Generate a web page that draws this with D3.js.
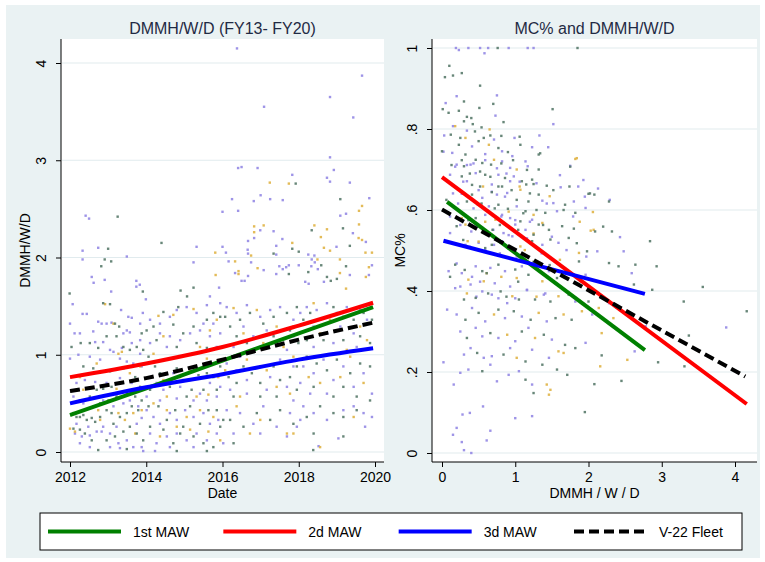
<!DOCTYPE html>
<html>
<head>
<meta charset="utf-8">
<script src="https://cdn.jsdelivr.net/npm/d3@7"></script>
<style>
  body { margin: 0; background: #fff; }
  text { font-family: "Liberation Sans", Arial, sans-serif; }
</style>
</head>
<body>
<svg id="chart" width="765" height="562"></svg>
<script>
// ---- data ----
let dateTicks = [2012, 2014, 2016, 2018, 2020];
let dmmhTicks = [0, 1, 2, 3, 4];
let mcTicks = [0, .2, .4, .6, .8, 1];
let mcTickLabels = ["0", ".2", ".4", ".6", ".8", "1"];
let wings = ["1st MAW", "2d MAW", "3d MAW", "V-22 Fleet"];

// fitted curves, left panel (year -> DMMH/W/D)
let fitYears = [2012, 2014, 2016, 2018, 2019.95];
let fitDate1st = [0.38, 0.655, 0.94, 1.22, 1.49];
let fitDate2d = [0.77, 0.91, 1.08, 1.30, 1.535];
let fitDate3d = [0.50, 0.665, 0.80, 0.95, 1.066];
let fitDateFleet = [0.627, 0.76, 0.95, 1.155, 1.33];

// fitted lines, right panel ([DMMH, MC%] end points)
let fitMc1st = [[0.07, 0.62], [2.77, 0.254]];
let fitMc2d = [[0.0, 0.681], [4.16, 0.121]];
let fitMc3d = [[0.02, 0.524], [2.77, 0.393]];
let fitMcFleet = [[0.0, 0.601], [4.14, 0.189]];

// scatter, left panel: [year, DMMH/W/D]
let dateGreen = [[2017.92,2.76],[2019.09,2.60],[2013.25,2.42],[2018.34,2.28],[2019.16,2.30],[2019.34,2.12],[2017.83,2.09],[2014.40,2.15],[2013.0,2.09],[2012.91,1.98],[2013.08,1.96],[2012.82,1.91],[2011.99,1.63],[2013.91,1.65],[2014.90,1.66],[2015.07,1.60],[2015.24,1.69],[2017.74,1.83],[2018.25,1.85],[2018.59,1.92],[2018.74,1.80],[2018.84,1.76],[2019.0,1.78],[2019.24,1.91],[2018.0,2.06],[2017.34,2.04],
  [2012.87,1.53],[2013.05,1.52],[2013.18,1.32],[2013.29,1.29],[2012.04,1.08],[2012.28,1.12],[2012.52,1.12],[2012.74,1.07],[2012.96,1.19],[2013.22,1.19],[2013.40,1.08],[2013.57,1.05],[2013.75,1.08],[2013.88,1.22],[2013.92,1.05],[2012.35,0.88],[2012.61,0.86],[2013.05,0.83],[2013.40,0.86],[2013.71,0.77],
  [2012.09,0.40],[2012.17,0.36],[2012.26,0.36],[2012.35,0.38],[2012.44,0.33],[2012.57,0.35],[2012.66,0.31],[2012.79,0.36],[2012.96,0.43],[2013.09,0.40],[2013.14,0.29],[2013.31,0.36],[2013.49,0.40],[2013.62,0.47],[2013.79,0.43],[2013.88,0.53],[2012.09,0.24],[2012.26,0.23],[2012.39,0.19],[2012.57,0.12],[2012.74,0.02],[2012.96,0.12],[2013.18,0.16],[2013.40,0.21],[2013.57,0.26],[2013.75,0.19],[2013.92,0.12],[2013.49,0.03],[2012.79,0.50],[2013.01,0.53],[2013.22,0.57],[2013.49,0.60],[2013.71,0.57],[2012.26,0.53],[2012.52,0.57],[2012.70,0.64],[2012.87,0.65],[2013.09,0.67],[2013.31,0.71],[2013.84,0.67],
  [2014.01,1.25],[2014.19,1.29],[2014.45,1.44],[2014.71,1.31],[2014.84,1.49],[2014.97,1.22],[2015.24,1.29],[2015.59,1.36],[2015.76,1.43],[2015.94,1.39],[2014.27,1.15],[2014.80,1.08],[2015.32,1.12],[2015.59,1.07],
  [2014.06,0.98],[2014.23,0.88],[2014.36,0.81],[2014.54,0.95],[2014.80,0.86],[2014.97,0.74],[2015.19,0.64],[2015.37,0.79],[2015.59,0.81],[2015.76,0.77],[2015.94,0.88],[2014.10,0.64],[2014.62,0.67],[2015.06,0.57],[2015.50,0.64],[2015.85,0.64],
  [2014.06,0.47],[2014.32,0.47],[2014.54,0.33],[2014.76,0.43],[2014.97,0.26],[2015.15,0.47],[2015.41,0.29],[2015.63,0.43],[2015.85,0.43],[2016.02,0.33],[2014.10,0.26],[2014.45,0.23],[2014.71,0.09],[2014.89,0.19],[2015.24,0.16],[2015.50,0.09],[2015.76,0.05],[2015.94,0.26],[2014.80,0.01],[2015.59,0.01],
  [2016.07,1.39],[2016.20,1.29],[2016.46,1.36],[2016.72,1.43],[2017.07,1.32],[2017.34,1.39],[2017.69,1.43],[2017.95,1.49],[2016.37,1.19],[2016.64,1.12],[2017.34,1.19],[2017.77,1.25],[2017.99,1.12],
  [2016.16,0.77],[2016.37,0.71],[2016.55,0.88],[2016.77,0.81],[2016.99,0.71],[2017.34,0.88],[2017.51,0.74],[2017.77,0.77],[2017.95,0.64],[2016.29,0.57],[2016.99,0.57],[2017.42,0.57],[2017.95,0.88],
  [2016.20,0.33],[2016.55,0.26],[2016.90,0.40],[2017.25,0.33],[2017.51,0.43],[2017.86,0.29],[2016.29,0.09],
  [2018.12,1.36],[2018.30,1.43],[2018.56,1.36],[2018.91,1.49],[2019.17,1.39],[2019.44,1.36],[2019.70,1.43],[2019.92,1.36],[2018.21,1.15],[2018.65,1.15],[2019.17,1.15],[2019.61,1.19],[2019.87,1.12],
  [2018.21,0.98],[2018.47,0.91],[2018.74,0.84],[2019.00,0.95],[2019.17,0.67],[2019.35,0.81],[2019.61,0.91],[2019.87,0.88],[2018.39,0.67],[2018.91,0.57],[2019.52,0.57],
  [2018.21,0.36],[2018.56,0.47],[2018.91,0.40],[2019.17,0.36],[2019.52,0.43],[2019.87,0.53],[2018.39,0.19],[2019.17,0.16],[2018.38,0.02]];

let dateLavender = [[2016.38,4.15],[2019.66,3.87],[2018.82,3.65],[2017.09,3.55],[2019.43,3.44],
  [2018.82,3.03],[2018.92,2.90],[2018.74,2.82],[2018.82,2.78],[2019.34,2.77],[2016.41,2.92],[2016.50,2.93],[2016.92,2.92],[2017.83,2.85],[2017.0,2.64],[2017.25,2.60],[2017.58,2.59],[2016.82,2.58],[2016.25,2.60],[2016.0,2.47],[2016.41,2.48],[2019.85,2.61],[2019.24,2.45],[2019.09,2.43],[2012.41,2.43],[2012.5,2.40],[2016.99,2.28],[2016.83,2.20],[2017.34,2.27],[2017.57,2.19],[2019.42,2.25],[2019.76,2.16],[2016.67,2.17],[2017.41,2.12],[2015.32,2.11],[2016.0,2.11],[2016.09,2.05],[2016.66,2.08],[2012.33,2.07],[2012.74,2.10],[2013.49,2.01],[2012.33,1.98],[2012.57,1.80],[2012.91,1.77],[2012.62,1.74],[2013.08,1.65],[2013.74,1.76],[2013.74,1.70],[2013.83,1.72],[2013.99,1.57],[2015.24,1.95],[2015.67,1.60],[2015.91,1.69],[2016.16,1.96],[2016.33,1.84],[2016.50,1.76],[2016.58,1.76],[2016.67,1.81],[2016.75,1.95],[2017.08,1.87],[2017.41,1.83],[2017.49,1.91],[2017.58,1.88],[2017.67,1.90],[2017.74,1.92],[2018.0,1.92],[2018.17,1.75],[2018.26,1.73],[2018.34,1.98],[2018.42,1.95],[2018.33,1.91],[2018.50,1.88],[2018.66,1.75],[2019.34,1.82],[2019.84,1.82],[2019.92,1.92],[2018.99,2.11],[2018.25,2.03],[2018.41,2.02],[2017.41,2.03],[2016.67,2.04],
  [2012.07,1.52],[2012.33,1.42],[2012.44,1.42],[2012.74,1.34],[2012.83,1.32],[2012.96,1.32],[2013.09,1.33],[2013.34,1.46],[2013.53,1.39],[2013.62,1.38],[2013.49,1.25],[2013.40,1.22],[2013.57,1.23],[2012.0,1.32],[2012.12,1.22],[2012.26,1.22],[2012.61,1.24],[2012.66,1.13],[2012.87,1.13],[2013.05,1.05],[2013.14,1.03],[2013.36,1.07],[2013.62,1.12],[2013.84,1.15],[2013.84,1.01],[2012.0,0.96],[2012.22,1.00],[2012.52,0.98],[2012.79,0.95],[2013.31,0.96],[2013.49,0.93],[2013.66,0.91],[2013.88,0.88],[2013.91,1.43],[2013.84,1.32],
  [2012.17,0.71],[2012.39,0.74],[2012.66,0.72],[2012.96,0.71],[2013.31,0.76],[2013.62,0.71],[2012.09,0.57],[2012.35,0.50],[2012.61,0.47],[2012.87,0.53],[2013.14,0.47],[2013.40,0.50],[2013.57,0.53],[2013.79,0.47],[2012.13,0.19],[2012.31,0.16],[2012.52,0.17],[2012.70,0.21],[2012.87,0.26],[2013.05,0.19],[2013.27,0.09],[2013.49,0.12],[2013.66,0.05],[2013.88,0.05],[2013.92,0.01],[2012.26,0.09],[2012.52,0.05],[2013.05,0.05],[2013.31,0.04],[2012.17,0.29],[2012.48,0.26],[2012.83,0.21],[2013.22,0.26],[2013.75,0.29],[2013.88,0.35],
  [2014.10,1.36],[2014.36,1.32],[2014.62,1.39],[2014.80,1.46],[2015.06,1.49],[2015.32,1.43],[2015.59,1.51],[2015.76,1.32],[2015.94,1.53],[2015.50,1.32],[2014.36,1.22],[2014.62,1.19],[2014.89,1.15],[2015.15,1.22],[2015.41,1.25],[2015.67,1.19],[2015.94,1.22],[2014.10,1.12],[2014.54,1.08],[2015.85,1.08],
  [2014.10,0.77],[2014.27,0.71],[2014.45,0.64],[2014.71,0.81],[2014.89,0.67],[2015.15,0.74],[2015.41,0.60],[2015.67,0.71],[2015.85,0.57],[2014.01,0.57],[2014.36,0.53],[2014.80,0.55],[2015.24,0.53],[2015.59,0.53],[2015.94,0.67],
  [2014.01,0.43],[2014.19,0.36],[2014.36,0.29],[2014.62,0.40],[2014.80,0.33],[2015.02,0.43],[2015.24,0.36],[2015.50,0.40],[2015.67,0.29],[2015.89,0.33],[2014.10,0.19],[2014.27,0.09],[2014.54,0.16],[2014.80,0.19],[2015.06,0.12],[2015.32,0.19],[2015.59,0.12],[2015.85,0.19],[2016.02,0.09],[2014.23,0.01],[2014.62,0.05],[2015.24,0.05],
  [2016.11,1.49],[2016.37,1.43],[2016.64,1.51],[2016.99,1.39],[2017.25,1.46],[2017.51,1.49],[2017.86,1.36],[2018.04,1.43],[2016.55,1.29],[2016.81,1.19],[2017.16,1.25],[2017.51,1.15],[2017.86,1.19],[2016.29,1.08],[2016.99,1.08],[2017.69,1.05],
  [2016.11,0.91],[2016.37,0.84],[2016.64,0.74],[2016.99,0.88],[2017.25,0.77],[2017.51,0.95],[2017.86,0.88],[2018.04,0.71],[2016.20,0.64],[2016.64,0.60],[2017.16,0.64],[2017.69,0.67],[2017.86,0.53],[2016.46,0.98],
  [2016.11,0.43],[2016.46,0.40],[2016.81,0.29],[2017.07,0.47],[2017.42,0.26],[2017.77,0.40],[2018.04,0.33],[2016.29,0.19],[2016.99,0.19],[2017.69,0.16],[2017.95,0.26],
  [2018.21,1.49],[2018.47,1.46],[2018.74,1.53],[2019.00,1.43],[2019.26,1.49],[2019.61,1.46],[2019.87,1.53],[2018.39,1.29],[2018.74,1.22],[2019.09,1.29],[2019.44,1.22],[2019.79,1.36],[2018.39,1.08],[2018.91,1.12],[2019.52,1.08],
  [2018.12,0.88],[2018.39,0.81],[2018.65,0.95],[2018.91,0.74],[2019.17,0.88],[2019.44,0.67],[2019.70,0.81],[2019.92,0.60],[2018.30,0.60],[2018.74,0.60],
  [2018.12,0.47],[2018.39,0.40],[2018.74,0.33],[2019.17,0.43],[2019.44,0.47],[2019.70,0.40],[2018.52,0.06],[2019.04,0.14],[2019.74,0.26],[2019.92,0.36]];

let dateGold = [[2017.24,2.77],[2017.74,2.76],[2019.66,2.53],[2019.58,2.48],[2016.83,2.32],[2017.08,2.33],[2016.83,2.26],[2018.41,2.33],[2018.58,2.21],[2018.74,2.29],[2019.58,2.34],[2019.57,2.20],[2019.66,2.18],[2017.83,2.15],[2015.81,2.05],[2015.82,1.82],[2016.42,1.83],[2016.42,1.86],[2016.33,1.96],[2016.92,1.89],[2019.08,1.84],[2019.24,1.68],[2019.84,1.90],[2019.76,1.80],[2019.75,2.05],[2019.92,2.05],[2019.08,1.98],[2018.66,2.10],[2018.82,2.07],[2018.49,1.98],[2016.75,2.02],
  [2012.92,1.52],[2013.14,1.32],[2013.36,1.03],[2013.27,1.01],[2012.70,0.91],[2012.26,0.77],[2012.52,0.81],[2013.57,0.81],[2013.84,0.88],
  [2012.0,0.24],[2012.13,0.21],[2012.74,0.43],[2013.05,0.53],[2013.27,0.40],[2013.44,0.33],[2013.66,0.40],[2013.88,0.43],[2012.35,0.64],[2013.22,0.65],[2012.79,0.33],[2013.71,0.19],
  [2014.32,1.40],[2014.71,1.41],[2015.24,1.47],[2015.85,1.36],[2014.45,1.19],[2015.67,1.25],[2015.41,1.08],
  [2014.19,1.01],[2014.45,0.74],[2014.89,0.77],[2015.15,0.83],[2015.32,0.57],[2015.63,0.59],[2015.89,0.77],[2014.54,0.57],[2015.59,0.96],
  [2014.19,0.50],[2014.54,0.43],[2014.80,0.26],[2015.06,0.36],[2015.41,0.43],[2015.76,0.36],[2014.36,0.16],[2015.15,0.23],[2015.63,0.21],[2015.94,0.12],
  [2016.29,1.48],[2016.90,1.46],[2017.42,1.29],[2017.86,1.29],[2016.55,1.22],[2017.07,1.12],[2017.60,1.08],
  [2016.07,0.84],[2016.64,0.95],[2017.16,0.84],[2017.42,0.67],[2017.77,0.60],[2016.46,0.57],[2017.86,0.98],
  [2016.37,0.47],[2016.72,0.19],[2017.69,0.19],[2016.99,0.33],
  [2018.39,1.53],[2018.82,1.36],[2019.35,1.46],[2019.61,1.29],[2019.79,1.15],[2018.56,1.22],[2019.26,1.05],
  [2018.26,0.77],[2018.56,0.71],[2019.09,0.77],[2019.35,0.98],[2019.70,0.71],
  [2017.86,0.19],[2018.56,0.05],[2019.44,0.36]];

// scatter, right panel: [DMMH/W/D, MC%]
let mcGreen = [[0.76,1],[1.85,1],
  [0.10,0.956],[0.04,0.928],[0.15,0.932],[0.27,0.938],[0.52,0.907],[0.30,0.868],[0.01,0.849],[0.09,0.84],[0.23,0.845],[0.51,0.852],[0.70,0.862],[1.51,0.849],[0.34,0.83],[0.40,0.827],[0.30,0.819],[0.42,0.812],[0.54,0.804],[0.84,0.817],[0.45,0.794],[0.12,0.786],[0.25,0.778],[0.57,0.778],[0.66,0.784],[0.81,0.783],[1.06,0.781],[0.0,0.745],[0.23,0.761],[0.50,0.77],[0.77,0.753],[1.07,0.761],[0.90,0.743],[0.32,0.737],[0.46,0.724],[1.32,0.737],[0.30,0.708],[0.55,0.716],[0.67,0.712],[1.32,0.70],[0.27,0.683],[0.59,0.687],[0.86,0.679],[1.09,0.671],[1.23,0.675],[0.52,0.658],[0.82,0.658],[1.15,0.663],[1.25,0.664],[1.43,0.660],[1.74,0.658],[2.00,0.640],[2.08,0.638],[1.32,0.638],[0.41,0.638],[0.68,0.644],[1.18,0.621],[1.68,0.613],[2.28,0.621],[0.77,0.613],[0.90,0.603],[1.14,0.597],[1.41,0.593],[1.82,0.593],[2.32,0.547],[1.32,0.564],[1.46,0.551],[1.64,0.56],[1.80,0.554],[2.09,0.547],[1.07,0.572],[1.25,0.539],[0.46,0.58],[0.20,0.56],[0.69,0.551],
  [0.59,0.506],[0.96,0.502],[1.23,0.523],[1.48,0.527],[1.73,0.531],[1.98,0.498],[2.28,0.469],[2.41,0.461],[2.64,0.465],[2.84,0.523],[2.93,0.461],[0.18,0.465],[0.55,0.449],[0.77,0.465],[1.00,0.453],[1.18,0.44],[1.57,0.432],[1.87,0.473],[2.62,0.416],[2.87,0.403],[0.30,0.379],[0.46,0.383],[0.80,0.399],[1.05,0.379],[1.27,0.379],[1.48,0.374],[1.73,0.391],[2.00,0.374],[3.56,0.41],[3.30,0.374],[4.16,0.35],[0.32,0.329],[0.50,0.346],[0.77,0.354],[0.98,0.35],[1.21,0.329],[1.55,0.333],[1.77,0.329],[3.37,0.29],[0.34,0.284],[0.66,0.296],[1.09,0.30],[1.39,0.292],[1.68,0.267],[1.82,0.259],[2.18,0.241],[2.95,0.224],[3.31,0.214],[0.48,0.247],[0.84,0.243],[1.14,0.226],[1.37,0.218],[1.57,0.206],[1.71,0.193],[0.55,0.202],[1.14,0.181],[1.25,0.148],[2.08,0.170],[1.95,0.101],[2.45,0.178],
  [0.13,0.711],[0.27,0.723],[0.38,0.69],[0.52,0.695],[0.66,0.682],[0.81,0.715],[0.97,0.723],[1.16,0.699],[0.41,0.662],[0.77,0.658],[0.95,0.649],[0.06,0.625],[0.34,0.621],[0.54,0.616],[0.72,0.604],[1.11,0.592],[1.29,0.60],[0.36,0.575],[0.79,0.563],[1.04,0.551],[1.38,0.563],[0.29,0.526],[0.68,0.514],[0.91,0.505],[1.25,0.472],[1.47,0.464],[1.84,0.518],[2.20,0.559],[2.02,0.641],[1.75,0.707],[1.34,0.74],[1.52,0.649],[1.66,0.60],[1.20,0.641],[1.02,0.625],[0.31,0.452],[0.61,0.444],[1.04,0.423],[0.11,0.435],[0.63,0.394],[0.88,0.386]];

let mcLavender = [[0.19,1],[0.23,0.995],[0.36,1],[0.52,1],[0.63,1],[0.91,1],[1.17,1],[1.25,1],[0.58,0.987],
  [0.05,0.864],[0.20,0.881],[0.73,0.833],[1.52,0.812],[0.15,0.807],[0.75,0.883],[0.34,0.796],[0.03,0.784],[0.71,0.774],[0.99,0.778],[1.33,0.784],[1.23,0.755],[1.45,0.755],[0.41,0.757],[0.14,0.741],[0.59,0.738],[0.82,0.745],[0.96,0.733],[1.14,0.72],[0.20,0.712],[0.39,0.712],[0.82,0.72],[0.93,0.704],[1.17,0.708],[1.75,0.709],[0.11,0.687],[0.46,0.691],[0.77,0.687],[0.98,0.683],[0.34,0.671],[0.68,0.663],[0.93,0.671],[1.62,0.656],[1.86,0.658],[2.13,0.653],[1.95,0.633],[0.27,0.64],[0.55,0.63],[0.75,0.638],[0.89,0.642],[1.37,0.623],[1.52,0.617],[1.80,0.621],[0.49,0.613],[0.64,0.609],[1.02,0.609],[1.57,0.597],[1.96,0.605],[2.43,0.533],[1.23,0.576],[1.00,0.564],[1.14,0.551],[0.93,0.58],[0.82,0.588],[0.59,0.588],[0.40,0.547],[0.11,0.543],[0.55,0.556],[0.84,0.543],[0.96,0.535],
  [0.32,0.514],[0.50,0.519],[0.71,0.514],[0.82,0.523],[1.37,0.514],[1.59,0.519],[2.12,0.498],[2.48,0.498],[0.09,0.449],[0.27,0.444],[0.46,0.461],[0.66,0.457],[0.86,0.449],[1.09,0.461],[1.46,0.449],[1.68,0.453],[1.96,0.44],[2.59,0.444],[0.18,0.407],[0.39,0.416],[0.55,0.399],[0.68,0.391],[0.89,0.37],[1.16,0.403],[1.39,0.391],[1.82,0.374],[2.28,0.37],[0.07,0.354],[0.20,0.342],[0.41,0.358],[0.59,0.325],[0.86,0.333],[1.09,0.337],[1.43,0.325],[2.05,0.342],[2.78,0.313],[3.88,0.31],[0.25,0.30],[0.46,0.309],[0.55,0.288],[0.77,0.284],[1.00,0.276],[1.18,0.309],[1.50,0.28],[1.96,0.272],[2.63,0.251],[0.02,0.224],[0.30,0.243],[0.39,0.259],[0.57,0.235],[0.68,0.239],[0.93,0.259],[1.23,0.255],[1.46,0.235],[0.25,0.198],[0.16,0.169],[0.36,0.206],[0.66,0.218],[0.75,0.177],[0.91,0.193],[1.05,0.202],[1.23,0.169],[0.56,0.115],[0.28,0.095],[0.38,0.099],[1.00,0.086],[1.23,0.091],[0.20,0.062],[0.15,0.045],[0.66,0.055],[0.61,0.031],[0.27,0.027],[0.30,0.007],[0.40,0.0],
  [0.02,0.744],[0.18,0.707],[0.34,0.711],[0.43,0.715],[0.59,0.723],[0.75,0.703],[0.88,0.69],[1.06,0.67],[0.29,0.67],[0.50,0.649],[0.68,0.645],[0.86,0.633],[0.15,0.641],[0.22,0.616],[0.43,0.604],[0.63,0.596],[0.81,0.584],[1.00,0.575],[1.20,0.571],[0.11,0.584],[0.25,0.563],[0.47,0.559],[0.70,0.551],[0.91,0.538],[1.16,0.53],[1.50,0.534],[0.38,0.509],[0.59,0.501],[0.79,0.493],[1.02,0.485],[1.36,0.493],[1.70,0.501],[1.97,0.485],[2.29,0.625],[1.93,0.674],[1.61,0.686],[1.43,0.616],[1.79,0.584],[1.29,0.666],[0.20,0.468],[0.41,0.435],[0.52,0.423],[0.72,0.419],[0.93,0.411],[1.16,0.402],[0.25,0.411],[0.47,0.386],[0.77,0.382],[1.00,0.382],[1.41,0.394]];

let mcGold = [[0.18,0.807],[0.65,0.799],[0.32,0.778],[0.64,0.761],[0.71,0.724],[1.02,0.70],[1.82,0.726],[1.06,0.658],[1.47,0.634],[0.32,0.638],[1.07,0.65],[2.06,0.595],[1.25,0.588],[1.37,0.568],[2.03,0.549],[0.73,0.576],[0.32,0.564],[0.27,0.58],
  [0.35,0.523],[1.07,0.51],[1.87,0.494],[0.36,0.428],[0.61,0.444],[1.02,0.432],[1.37,0.424],[1.89,0.424],[0.57,0.424],[0.96,0.387],[1.59,0.387],[2.14,0.358],[0.71,0.342],[1.32,0.346],[1.66,0.342],[1.91,0.35],[2.18,0.296],[2.34,0.333],[0.89,0.292],[1.27,0.284],[1.59,0.251],[2.53,0.23],[1.02,0.235],[1.66,0.247],[2.16,0.214],[1.43,0.169],[1.48,0.156],[1.46,0.144],
  [0.56,0.658],[0.91,0.596],[0.59,0.571],[1.25,0.542],[0.50,0.522],[1.13,0.501],[1.61,0.477],[2.07,0.551],[1.84,0.728],[1.88,0.571],[0.81,0.435],[0.34,0.394],[1.29,0.386]];

// ---- drawing ----
let svg = d3.select("#chart");
let bg = "#eaf2f3", grid = "#e1ebee";
let dotColors = {green: "#587a6a", lavender: "#9488e4", gold: "#e0b446"};
let fitColors = ["#008000", "#ff0000", "#0000ff", "#000000"];

svg.append("rect").attr("x", 6).attr("y", 5).attr("width", 754).attr("height", 553).attr("fill", bg);

function panel(opt) {
  let g = svg.append("g");
  let x = opt.x, y = opt.y, box = opt.box;
  g.append("rect").attr("x", box.left).attr("y", box.top)
    .attr("width", box.right - box.left).attr("height", box.bottom - box.top).attr("fill", "#fff");

  // gridlines
  g.selectAll(".grid").data(opt.yTicks).enter().append("line")
    .attr("x1", box.left + 1).attr("x2", box.right)
    .attr("y1", d => y(d)).attr("y2", d => y(d))
    .attr("stroke", grid).attr("stroke-width", 1.2);

  // scatter
  [["lavender", opt.dots[1]], ["gold", opt.dots[2]], ["green", opt.dots[0]]].forEach(function(s) {
    g.selectAll(null).data(s[1]).enter().append("rect")
      .attr("x", d => x(d[0]) - 1.2).attr("y", d => y(d[1]) - 1.2)
      .attr("width", 2.4).attr("height", 2.4)
      .attr("fill", dotColors[s[0]]).attr("opacity", 0.9);
  });

  // fit lines
  opt.fits.forEach(function(f, i) {
    g.append("path").datum(f)
      .attr("d", d3.line().x(d => x(d[0])).y(d => y(d[1])).curve(d3.curveMonotoneX))
      .attr("fill", "none").attr("stroke", fitColors[i]).attr("stroke-width", 4)
      .attr("stroke-dasharray", i == 3 ? "10,5" : null);
  });

  // y axis
  let ya = g.append("g").attr("transform", "translate(" + box.left + ",0)")
    .call(d3.axisLeft(y).tickValues(opt.yTicks).tickSize(5).tickFormat((d, i) => opt.yLabels[i]));
  ya.select(".domain").remove();
  ya.selectAll("line").attr("stroke", "#000");
  ya.selectAll("text").attr("x", null).attr("dy", null)
    .attr("transform", "translate(-15,0) rotate(-90)")
    .attr("text-anchor", "middle").style("font-size", "14px").attr("fill", "#000");
  g.append("line").attr("x1", box.left).attr("x2", box.left)
    .attr("y1", box.top).attr("y2", box.bottom).attr("stroke", "#000");

  // x axis
  let xa = g.append("g").attr("transform", "translate(0," + box.bottom + ")")
    .call(d3.axisBottom(x).tickValues(opt.xTicks).tickSize(5).tickFormat(d => d));
  xa.select(".domain").remove();
  xa.selectAll("line").attr("stroke", "#000");
  xa.selectAll("text").attr("y", 20).attr("dy", null).style("font-size", "14px").attr("fill", "#000");
  g.append("line").attr("x1", box.left).attr("x2", box.right)
    .attr("y1", box.bottom).attr("y2", box.bottom).attr("stroke", "#000");

  // titles
  g.append("text").attr("x", (box.left + box.right) / 2).attr("y", 34)
    .attr("text-anchor", "middle").style("font-size", "16px").attr("fill", "#1f2a44").text(opt.title);
  g.append("text").attr("x", (box.left + box.right) / 2).attr("y", 498)
    .attr("text-anchor", "middle").style("font-size", "14px").text(opt.xTitle);
  g.append("text").attr("transform", "translate(" + (box.left - opt.yTitleOffset) + "," + ((box.top + box.bottom) / 2) + ") rotate(-90)")
    .attr("text-anchor", "middle").style("font-size", "14px").text(opt.yTitle);
}

let leftBox = {left: 61, right: 384, top: 39, bottom: 462};
let rightBox = {left: 432, right: 757, top: 39, bottom: 462};

panel({
  box: leftBox,
  x: d3.scaleLinear().domain([2012, 2020]).range([70, 375]),
  y: d3.scaleLinear().domain([0, 4]).range([452, 63]),
  xTicks: dateTicks, yTicks: dmmhTicks, yLabels: dmmhTicks.map(String),
  dots: [dateGreen, dateLavender, dateGold],
  fits: [fitDate1st, fitDate2d, fitDate3d, fitDateFleet].map(v => v.map((d, i) => [fitYears[i], d])),
  title: "DMMH/W/D (FY13- FY20)", xTitle: "Date", yTitle: "DMMH/W/D", yTitleOffset: 31
});

panel({
  box: rightBox,
  x: d3.scaleLinear().domain([0, 4]).range([442, 735]),
  y: d3.scaleLinear().domain([0, 1]).range([453, 48]),
  xTicks: dmmhTicks, yTicks: mcTicks, yLabels: mcTickLabels,
  dots: [mcGreen, mcLavender, mcGold],
  fits: [fitMc1st, fitMc2d, fitMc3d, fitMcFleet],
  title: "MC% and DMMH/W/D", xTitle: "DMMH / W / D", yTitle: "MC%", yTitleOffset: 27
});

// legend
let leg = svg.append("g");
leg.append("rect").attr("x", 40).attr("y", 513).attr("width", 702).attr("height", 37)
  .attr("fill", "#fff").attr("stroke", "#000").attr("stroke-width", 1);
let legX = d3.scalePoint().domain(wings).range([48, 574]);
wings.forEach(function(w, i) {
  let lx = legX(w);
  leg.append("line").attr("x1", lx).attr("x2", lx + 73).attr("y1", 531.5).attr("y2", 531.5)
    .attr("stroke", fitColors[i]).attr("stroke-width", 4)
    .attr("stroke-dasharray", i == 3 ? "10,5" : null);
  leg.append("text").attr("x", lx + 85).attr("y", 536.5).style("font-size", "14px").text(w);
});
</script>
</body>
</html>
